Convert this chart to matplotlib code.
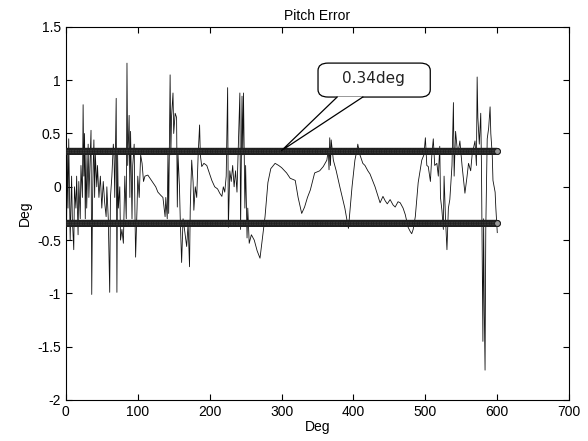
import numpy as np
import matplotlib
matplotlib.use("Agg")
import matplotlib.pyplot as plt
from matplotlib.patches import FancyBboxPatch, Polygon

# pitch error trace (x in deg, y in deg)
x_deg = [0, 1, 2, 3, 4, 5, 6, 8, 9, 11, 12, 14, 15, 17, 18, 20, 21, 23, 24, 25,
         26, 27, 28, 29, 31, 32, 33, 35, 36, 37, 38, 39, 40, 41, 43, 44, 46, 48, 50, 52,
         54, 56, 57, 59, 61, 62, 64, 66, 67, 68, 70, 71, 72, 73, 75, 76, 78, 80, 81, 82,
         84, 85, 86, 88, 89, 90, 92, 93, 95, 96, 97, 99, 100, 102, 104, 106, 108, 110, 114, 117,
         121, 125, 128, 132, 135, 138, 139, 141, 142, 143, 145, 146, 147, 149, 150, 152, 154, 155, 156, 158,
         159, 161, 163, 165, 168, 170, 172, 173, 175, 177, 178, 180, 182, 184, 186, 187, 189, 192, 196, 200,
         203, 207, 211, 214, 217, 219, 221, 223, 225, 226, 228, 230, 232, 234, 236, 238, 240, 242, 243, 245,
         246, 247, 249, 250, 252, 253, 255, 258, 262, 266, 270, 273, 277, 281, 285, 291, 296, 300, 307, 312,
         319, 323, 328, 332, 336, 340, 346, 353, 358, 363, 365, 366, 367, 368, 369, 372, 376, 381, 388, 393,
         396, 398, 402, 405, 406, 409, 413, 416, 420, 423, 430, 437, 441, 444, 447, 451, 455, 458, 462, 465,
         469, 472, 476, 479, 481, 483, 486, 490, 495, 498, 500, 502, 504, 507, 509, 511, 513, 516, 518, 520,
         521, 523, 525, 526, 528, 530, 532, 534, 537, 539, 540, 542, 545, 548, 551, 555, 558, 560, 563, 565,
         569, 571, 572, 573, 575, 577, 578, 580, 581, 582, 583, 584, 586, 588, 590, 591, 593, 594, 597, 598,
         600]
pitch_err = [0.45, -0.38, 0.3, -0.2, 0.45, -0.05, -0.5, 0.1, -0.3, -0.59, 0.0, -0.2, 0.1, -0.45, 0.05, -0.3, 0.2, -0.1, 0.77, 0.1,
             0.5, -0.3, 0.3, -0.2, 0.4, -0.1, 0.1, 0.53, -1.01, -0.2, 0.2, 0.44, -0.1, 0.3, 0.0, 0.2, -0.1, 0.1, -0.2, 0.05,
             -0.15, -0.28, 0.0, -0.3, -0.99, -0.1, 0.1, 0.4, 0.3, -0.1, 0.83, -0.99, 0.3, -0.2, 0.0, -0.5, -0.4, -0.53, -0.2, 0.1,
             -0.3, 1.16, 0.2, 0.67, -0.1, 0.52, -0.3, 0.2, 0.4, -0.2, -0.66, -0.2, 0.1, -0.1, 0.3, 0.22, 0.05, 0.1, 0.11, 0.08,
             0.04, 0.0, -0.05, -0.08, -0.1, -0.28, -0.1, -0.3, 0.32, -0.25, 1.05, 0.3, 0.66, 0.88, 0.5, 0.69, 0.65, -0.19, 0.3, 0.0,
             -0.28, -0.71, -0.3, -0.4, -0.56, -0.35, -0.75, -0.2, 0.25, 0.04, -0.22, 0.0, -0.1, 0.3, 0.58, 0.3, 0.19, 0.22, 0.2, 0.12,
             0.06, 0.0, -0.02, -0.06, -0.09, 0.0, -0.05, 0.1, 0.93, -0.38, 0.15, 0.05, 0.2, 0.0, 0.15, -0.05, 0.4, 0.88, -0.4, 0.85,
             0.3, 0.88, -0.2, 0.2, -0.48, -0.2, -0.53, -0.45, -0.5, -0.6, -0.67, -0.5, -0.28, 0.04, 0.17, 0.22, 0.2, 0.18, 0.13, 0.08,
             0.06, -0.1, -0.25, -0.19, -0.1, -0.03, 0.13, 0.15, 0.19, 0.25, 0.35, 0.16, 0.46, 0.2, 0.44, 0.25, 0.15, 0.0, -0.2, -0.39,
             -0.15, 0.0, 0.25, 0.35, 0.4, 0.3, 0.22, 0.2, 0.15, 0.12, 0.0, -0.15, -0.09, -0.13, -0.16, -0.12, -0.17, -0.19, -0.14, -0.15,
             -0.2, -0.26, -0.38, -0.42, -0.44, -0.4, -0.28, 0.04, 0.25, 0.3, 0.46, 0.2, 0.19, 0.05, 0.3, 0.45, 0.2, 0.22, 0.1, 0.38,
             -0.1, -0.22, -0.4, 0.1, -0.3, -0.59, -0.2, -0.12, 0.2, 0.79, 0.1, 0.52, 0.3, 0.43, 0.2, -0.06, 0.1, 0.22, 0.15, 0.3,
             0.43, 0.2, 1.03, 0.65, 0.4, 0.69, 0.2, -1.45, -0.3, -1.2, -1.72, -0.4, 0.45, 0.55, 0.75, 0.5, 0.3, 0.06, -0.05, -0.2,
             -0.43]

limit = 0.34
limit_span = [0, 600]
callout_text = "0.34deg"
x_ticks = [0, 100, 200, 300, 400, 500, 600, 700]
y_ticks = [-2, -1.5, -1, -0.5, 0, 0.5, 1, 1.5]
y_tick_labels = ["-2", "-1.5", "-1", "-0.5", "0", "0.5", "1", "1.5"]

plt.rcParams["font.family"] = ["Liberation Sans", "DejaVu Sans"]

fig = plt.figure(figsize=(5.88, 4.41), dpi=100)
ax = fig.add_axes([0.112, 0.093, 0.856, 0.846])

ax.plot(x_deg, pitch_err, color="#111111", lw=0.6, zorder=2)

# thick +/- limit lines: dark band with packed circle markers
xs = np.arange(limit_span[0], limit_span[1] + 1, 1)
for lv in (limit, -limit):
    ax.plot(limit_span, [lv, lv], color="#151515", lw=4.6,
            solid_capstyle="round", zorder=3)
    ax.plot(xs, np.full(xs.shape, lv), ls="none", marker="o", ms=4.2,
            mfc="#9a9a9a", mec="#1a1a1a", mew=0.7, zorder=3)

ax.set_xlim(0, 700)
ax.set_ylim(-2, 1.5)
ax.set_xticks(x_ticks)
ax.set_yticks(y_ticks)
ax.set_yticklabels(y_tick_labels)
ax.tick_params(direction="in", top=True, right=True, labelsize=10, length=4)
ax.set_xlabel("Deg", fontsize=10, labelpad=1)
ax.set_ylabel("Deg", fontsize=10, labelpad=4)
ax.set_title("Pitch Error", fontsize=10, pad=5)

# speech bubble callout
box = FancyBboxPatch((0.501, 0.812), 0.223, 0.091, transform=ax.transAxes,
                     boxstyle="round,pad=0,rounding_size=0.02",
                     fc="white", ec="black", lw=0.9, zorder=5)
ax.add_patch(box)
tip = ax.transAxes.inverted().transform(ax.transData.transform((300, limit)))
tail = [(0.539, 0.813), tuple(tip), (0.590, 0.813)]
ax.add_patch(Polygon(tail, closed=True, transform=ax.transAxes,
                     fc="white", ec="none", zorder=6))
ax.plot([0.539, tip[0], 0.590], [0.812, tip[1], 0.812], color="black",
        lw=0.9, transform=ax.transAxes, zorder=7)
ax.text(0.612, 0.862, callout_text, transform=ax.transAxes, ha="center",
        va="center", fontsize=11, family=["DejaVu Sans"], color="#222222",
        zorder=8)

fig.savefig("out.png", dpi=100)
